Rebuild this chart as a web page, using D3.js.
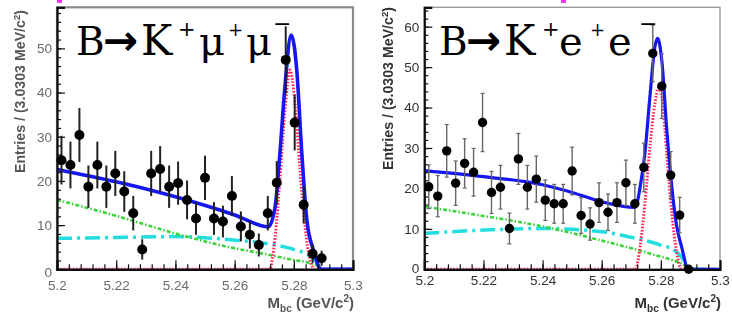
<!DOCTYPE html>
<html><head><meta charset="utf-8">
<script src="https://cdn.jsdelivr.net/npm/d3@7/dist/d3.min.js"></script>
<style>body{margin:0;background:#fff}svg{display:block}</style>
</head><body>
<svg id="c" width="732" height="320"></svg>
<script>
// ---------- data ----------
const xTickLabels = ["5.2","5.22","5.24","5.26","5.28","5.3"];
const xTicks = [5.20,5.22,5.24,5.26,5.28,5.30];
const yTicksMu = [0,10,20,30,40,50];
const yTicksEE = [0,10,20,30,40,50,60];
const binWidth = 0.1/33;

// B -> K mu mu : bin contents (bins 0..29)
const muCounts = [24.7,23.6,30.4,18.7,23.6,18.7,21.7,17.6,12.7,4.5,21.7,22.7,18.7,19.5,15.7,11.5,20.7,11.5,10.8,16.6,9.7,7.8,5.5,12.7,19.6,47.4,33.2,14.6,3.5,2.5];
const muErrors = [5.5,5.3,6.1,4.8,5.3,4.8,5.1,4.6,3.9,2.3,5.1,5.2,4.8,4.9,4.4,3.7,5.0,3.7,3.6,4.5,3.4,3.1,2.6,3.9,4.9,7.6,6.3,4.2,2.1,1.7];
// B -> K e e
const eeCounts = [20.4,18.1,29.3,21.3,26.2,24.0,36.3,19.0,20.3,10.1,27.3,20.3,22.3,17.1,16.2,16.2,24.3,13.3,11.2,16.5,14.1,16.5,21.4,16.2,25.2,53.4,45.3,23.3,13.4,0];
const eeErrors = [5.4,5.1,6.5,5.5,6.1,5.9,7.2,5.2,5.4,3.8,6.3,5.4,5.7,5.0,4.8,4.8,5.9,4.4,4.0,4.9,4.5,4.9,5.6,4.8,6.0,7.0,8.0,5.8,4.4,0];

// fit curves
const bgX = [5.20,5.22,5.24,5.26,5.27,5.28,5.285,5.288,5.289,5.30];
const muGreen = [15.7,12.1,8.1,4.75,3.5,2.1,1.5,0.8,0,0];
const muCyan  = [7.0,7.2,7.4,6.6,5.9,4.5,3.2,1.4,0,0];
const eeGreen = [15.5,13.2,10.6,7.1,5.2,3.1,2.0,1.0,0,0];
const eeCyan  = [8.9,9.7,10.1,9.3,7.9,6.0,4.5,1.8,0,0];

const muTotX = [5.20,5.22,5.24,5.26,5.2714,5.2737,5.2753,5.2770,5.2791,5.2810,5.2827,5.2844,5.2866,5.2894,5.30];
const muTotY = [22.6,19.8,16.4,12.3,9.6,14.2,26.2,41.3,53.0,45.1,26.3,11.2,4.4,0,0];
const muSigX = [5.20,5.2720,5.2728,5.2737,5.2753,5.2770,5.2787,5.2804,5.2821,5.2838,5.2855,5.2872,5.30];
const muSigY = [0,0,2.5,7.4,20.2,36,45.1,37.6,22.5,9.6,2.1,0,0];

const eeTotX = [5.20,5.22,5.24,5.25,5.26,5.2713,5.2730,5.2746,5.2763,5.2780,5.2789,5.2803,5.2820,5.2837,5.2854,5.2870,5.2893,5.30];
const eeTotY = [24.4,22.9,20.9,19.0,16.7,15.3,20.4,28.7,42.7,55.1,57.1,51.8,34.5,20.4,10.5,5.6,0,0];
const eeSigX = [5.20,5.2713,5.2730,5.2746,5.2763,5.2780,5.2791,5.2803,5.2820,5.2837,5.2854,5.2870,5.30];
const eeSigY = [0,0,5.6,16.3,30.3,41.1,44.8,42.7,28.7,13.9,4.0,0,0];

// ---------- drawing ----------
const svg = d3.select("#c");
const defs = svg.append("defs");
defs.append("filter").attr("id","blurL").append("feGaussianBlur").attr("stdDeviation",0.75);
defs.append("filter").attr("id","blurR").append("feGaussianBlur").attr("stdDeviation",0.35);

function panel(cfg){
  const g = svg.append("g").attr("filter", `url(#${cfg.blur})`);
  const x = d3.scaleLinear().domain([5.2,5.3]).range([cfg.x0,cfg.x1]);
  const y = d3.scaleLinear().domain([0,cfg.ymax]).range([cfg.yb,cfg.yt]);

  // frame
  g.append("rect").attr("x",cfg.x0).attr("y",cfg.yt).attr("width",cfg.x1-cfg.x0).attr("height",cfg.yb-cfg.yt)
    .attr("fill","none").attr("stroke",cfg.frameColor).attr("stroke-width",cfg.frameW);

  const line = (xs,ys)=> d3.line().x((d,i)=>x(xs[i])).y((d,i)=>y(ys[i])).curve(d3.curveMonotoneX)(ys);

  // curves
  g.append("path").attr("d",line(bgX,cfg.cyan)).attr("fill","none").attr("stroke","#22dede")
    .attr("stroke-width",3.5).attr("stroke-dasharray","15,5,3,5");
  g.append("path").attr("d",line(bgX,cfg.green)).attr("fill","none").attr("stroke","#3bd43b")
    .attr("stroke-width",2.6).attr("stroke-dasharray","4,2,1.5,2");
  g.append("path").attr("d",line(cfg.sigX,cfg.sigY)).attr("fill","none").attr("stroke","#ff2a5a")
    .attr("stroke-width",3).attr("stroke-dasharray","1.6,1.6");
  g.append("path").attr("d",line(cfg.totX,cfg.totY)).attr("fill","none").attr("stroke","#1414f0")
    .attr("stroke-width",cfg.blueW);

  // axes
  const yMinor = d3.range(0, cfg.ymax, 2);
  const xMinor = d3.range(0,26).map(i=>5.2+i*0.004);
  const ya = g.append("g").attr("transform",`translate(${cfg.x0},0)`);
  ya.call(d3.axisLeft(y).tickValues(yMinor).tickSize(-4).tickFormat(""));
  ya.call(g2=>g2.selectAll(".domain").remove());
  const yb = g.append("g").attr("transform",`translate(${cfg.x0},0)`);
  yb.call(d3.axisLeft(y).tickValues(cfg.yTicks).tickSize(-8).tickPadding(5).tickFormat(d3.format("d")));
  const xa = g.append("g").attr("transform",`translate(0,${cfg.yb})`);
  xa.call(d3.axisBottom(x).tickValues(xMinor).tickSize(-5).tickFormat(""));
  xa.call(g2=>g2.selectAll(".domain").remove());
  const xb = g.append("g").attr("transform",`translate(0,${cfg.yb})`);
  xb.call(d3.axisBottom(x).tickValues(xTicks).tickSize(-9).tickPadding(cfg.xPad).tickFormat((d,i)=>xTickLabels[i]));
  [ya,yb,xa,xb].forEach(a=>{
    a.selectAll("line").attr("stroke",cfg.axisColor).attr("stroke-width",1.2);
    a.selectAll(".domain").attr("stroke",cfg.axisColor).attr("stroke-width",2.2);
    a.selectAll("text").attr("fill",cfg.textColor).attr("font-family","Liberation Sans, Arial, sans-serif")
      .attr("font-size",13.5);
  });
  yb.selectAll(".tick text").filter(d=>d===0).attr("dy", cfg.zeroDy);

  // data points
  const pts = g.append("g");
  cfg.counts.forEach((c,i)=>{
    const cx = x(5.2 + (i+0.5)*binWidth);
    const e = cfg.errs[i];
    if(e>0){
      pts.append("line").attr("x1",cx).attr("x2",cx).attr("y1",y(c+e)).attr("y2",y(c-e))
        .attr("stroke",cfg.errColor).attr("stroke-width",cfg.errW);
      if(cfg.caps){
        [c+e,c-e].forEach(v=>pts.append("line").attr("x1",cx-2).attr("x2",cx+2).attr("y1",y(v)).attr("y2",y(v))
          .attr("stroke",cfg.errColor).attr("stroke-width",1.2));
      }
    }
    pts.append("circle").attr("cx",cx).attr("cy",y(c)).attr("r",cfg.r).attr("fill","#000");
  });

  // axis titles
  const yt = g.append("text").attr("transform",`translate(${cfg.ytx},${cfg.yt0}) rotate(-90)`)
    .attr("text-anchor","end").attr("font-family","Liberation Sans, Arial, sans-serif")
    .attr("font-weight","bold").attr("font-size",14.2).attr("fill",cfg.titleColor);
  yt.append("tspan").text("Entries / (3.0303 MeV/c");
  yt.append("tspan").attr("dy",-5).attr("font-size",9.5).text("2");
  yt.append("tspan").attr("dy",5).text(")");

  const xt = g.append("text").attr("x",cfg.x1+1).attr("y",308).attr("text-anchor","end")
    .attr("font-family","Liberation Sans, Arial, sans-serif").attr("font-weight","bold")
    .attr("font-size",15).attr("fill",cfg.titleColor);
  xt.append("tspan").text("M");
  xt.append("tspan").attr("dy",4).attr("font-size",10).text("bc");
  xt.append("tspan").attr("dy",-4).text(" (GeV/c");
  xt.append("tspan").attr("dy",-6).attr("font-size",10).text("2");
  xt.append("tspan").attr("dy",6).text(")");

  // decay title (overlaid, crisp); glyph positions follow the reference
  const p = cfg.titlePos;
  const t = svg.append("text").attr("y",55).attr("font-family","DejaVu Serif, serif")
    .attr("font-size",39).attr("fill","#000");
  t.append("tspan").attr("x",p[0]).text("B");
  t.append("tspan").attr("x",p[1]).attr("font-family","DejaVu Sans, sans-serif").attr("font-weight","bold")
    .attr("font-size",42).text("\u2192");
  t.append("tspan").attr("x",p[2]).attr("font-size",42).attr("font-weight","normal")
    .attr("font-family","DejaVu Serif, serif").text("K");
  t.append("tspan").attr("x",p[3]).attr("y",36).attr("font-size",21).text("+");
  t.append("tspan").attr("x",p[4]).attr("y",55).attr("font-size",40).text(cfg.lep);
  t.append("tspan").attr("x",p[5]).attr("y",36).attr("font-size",18).text("+");
  t.append("tspan").attr("x",p[6]).attr("y",55).attr("font-size",40).text(cfg.lep);
  t.append("tspan").attr("x",p[7]).attr("y",31).attr("font-size",22).text("\u2212");

  // small magenta artefact at the top
  svg.append("rect").attr("x",cfg.magX).attr("y",0).attr("width",5).attr("height",3).attr("fill","#ff33ff");
}

panel({x0:57,x1:353,yt:7.3,yb:269.3,ymax:59.3,blur:"blurL",frameColor:"#8a8a8a",frameW:2.2,
  axisColor:"#111",textColor:"#6a6a6a",titleColor:"#555",xPad:11,ytx:25,yt0:10,zeroDy:"0.5em",
  counts:muCounts,errs:muErrors,errColor:"#222",errW:2,caps:false,r:5,blueW:3.6,
  green:muGreen,cyan:muCyan,totX:muTotX,totY:muTotY,sigX:muSigX,sigY:muSigY,yTicks:yTicksMu,
  titlePos:[76,103,141,178,199,228,246,273],lep:"\u03bc",magX:57});

panel({x0:424.3,x1:720,yt:7.3,yb:269.3,ymax:64.8,blur:"blurR",frameColor:"#9a9a9a",frameW:1.4,
  axisColor:"#111",textColor:"#333",titleColor:"#333",xPad:6,ytx:393,yt0:7,zeroDy:"0.2em",
  counts:eeCounts,errs:eeErrors,errColor:"#666",errW:1.4,caps:true,r:4.7,blueW:3.2,
  green:eeGreen,cyan:eeCyan,totX:eeTotX,totY:eeTotY,sigX:eeSigX,sigY:eeSigY,yTicks:yTicksEE,
  titlePos:[439,466,504,542,559,590,608,639],lep:"e",magX:561});
</script>
</body></html>
